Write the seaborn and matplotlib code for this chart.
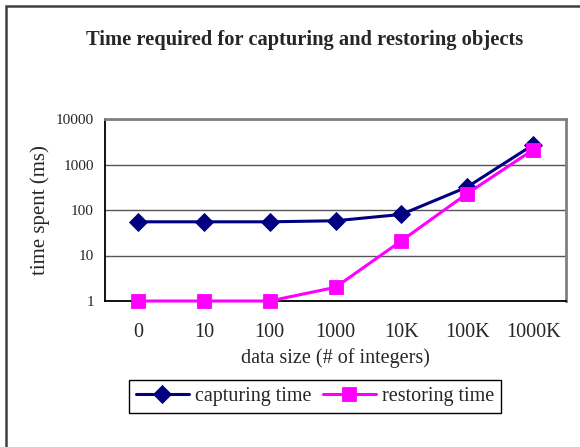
import matplotlib
matplotlib.use("Agg")
import matplotlib.pyplot as plt
import seaborn as sns
import pandas as pd
from matplotlib.patches import Rectangle

categories = ["0", "10", "100", "1000", "10K", "100K", "1000K"]
capturing = [55, 55, 55, 58, 80, 320, 2700]
restoring = [1, 1, 1, 2, 21, 230, 2100]
series_names = ["capturing time", "restoring time"]
y_ticks = [1, 10, 100, 1000, 10000]

sns.set_theme(style="white")
plt.rcParams["font.family"] = ["Liberation Serif", "DejaVu Serif"]

df = pd.DataFrame({
    "size": categories * 2,
    "time": capturing + restoring,
    "series": [series_names[0]] * len(categories) + [series_names[1]] * len(categories),
})

fig = plt.figure(figsize=(5.8, 4.47), dpi=100)
ax = fig.add_axes([105 / 580, 1 - 301 / 447, (566 - 105) / 580, (301 - 119) / 447])

palette = {series_names[0]: "#000080", series_names[1]: "#FF00FF"}
markers = {series_names[0]: "D", series_names[1]: "s"}
sns.lineplot(data=df, x="size", y="time", hue="series", style="series",
             palette=palette, markers=markers, dashes=False, linewidth=2.2,
             markersize=9, markeredgewidth=0.6, ax=ax, sort=False)
for line in ax.lines:
    line.set_markeredgecolor(line.get_color())
    line.set_clip_on(False)
    line.set_zorder(5)
    if line.get_marker() == "s":
        line.set_markersize(10.5)

ax.set_yscale("log")
ax.set_ylim(1, 10000)
ax.set_xlim(-0.5, len(categories) - 0.5)
ax.set_yticks(y_ticks)
ax.set_yticklabels([str(v) for v in y_ticks], fontsize=11)
ax.minorticks_off()
ax.set_xticks(range(len(categories)))
ax.set_xticklabels(categories, fontsize=14.5)
ax.set_xticks([i - 0.5 for i in range(len(categories) + 1)], minor=True)
ax.tick_params(axis="x", which="major", length=0, pad=16)
ax.tick_params(axis="x", which="minor", length=5, width=1, color="black", direction="out")
ax.tick_params(axis="y", which="major", length=5, width=1, color="black", direction="out", pad=3)

ax.yaxis.grid(True, color="#555555", linewidth=1)
ax.set_axisbelow(True)
ax.spines["left"].set_color("black")
ax.spines["bottom"].set_color("black")
ax.spines["left"].set_linewidth(1.3)
ax.spines["bottom"].set_linewidth(1.3)
for s in ["top", "right"]:
    ax.spines[s].set_color("#808080")
    ax.spines[s].set_linewidth(2)

ax.set_xlabel("data size (# of integers)", fontsize=14.5, labelpad=4)
ax.set_ylabel("time spent (ms)", fontsize=15, labelpad=4)

fig.text(305 / 580, 1 - 40 / 447, "Time required for capturing and restoring objects",
         ha="center", va="center", fontsize=14.8, fontweight="bold")

handles, labels = ax.get_legend_handles_labels()
ax.legend(handles, labels, ncol=2, loc="center", bbox_to_anchor=(315 / 580, 1 - 396.5 / 447),
          bbox_transform=fig.transFigure, frameon=True, fancybox=False, edgecolor="black",
          fontsize=14.5, handlelength=2.6, columnspacing=0.6, handletextpad=0.3,
          borderpad=0.35, framealpha=1)
ax.get_legend().get_frame().set_linewidth(1)

fig.patches.append(Rectangle((6 / 580, -0.2), 2, 1 - 6 / 447 + 0.2, transform=fig.transFigure,
                             fill=False, edgecolor="#404040", linewidth=1.8))

fig.savefig("out.png", dpi=100)
